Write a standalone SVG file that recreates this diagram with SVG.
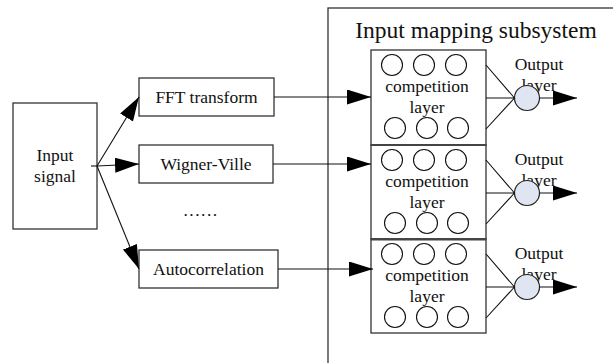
<svg xmlns="http://www.w3.org/2000/svg" width="613" height="363" viewBox="0 0 613 363">
  <style>
    .box { fill: #fff; stroke: #333; stroke-width: 1.3; }
    .sep { stroke: #444; stroke-width: 2; }
    .neuron { fill: none; stroke: #111; stroke-width: 1.1; }
    .out { fill: #dfe6f2; stroke: #222; stroke-width: 1.2; }
    .wire { fill: none; stroke: #111; stroke-width: 1.1; }
    .arrow { fill: none; stroke: #111; stroke-width: 1.1; marker-end: url(#head); }
    text { font-family: "Liberation Serif", "Times New Roman", serif; font-size: 17.5px; fill: #111; text-anchor: middle; }
    .title { font-size: 23.5px; }
  </style>
  <defs>
    <marker id="head" markerUnits="userSpaceOnUse" markerWidth="24" markerHeight="16" refX="24" refY="7.5" orient="auto">
      <path d="M0,0 L24,7.5 L0,15 Z" fill="#000"/>
    </marker>
    <g id="layerBlock">
      <circle class="neuron" cx="22" cy="15" r="10.5"/>
      <circle class="neuron" cx="54" cy="15" r="10.5"/>
      <circle class="neuron" cx="86" cy="15" r="10.5"/>
      <circle class="neuron" cx="25" cy="78" r="10.5"/>
      <circle class="neuron" cx="57" cy="78" r="10.5"/>
      <circle class="neuron" cx="88" cy="78" r="10.5"/>
      <text x="57" y="42">competition</text>
      <text x="57" y="63">layer</text>
    </g>
  </defs>

  <rect width="613" height="363" fill="#fff"/>

  <!-- subsystem frame (runs off the right and bottom edges) -->
  <g id="subsystem">
    <rect x="328" y="8" width="300" height="380" fill="none" stroke="#333" stroke-width="1.3"/>
    <text class="title" x="476" y="38">Input mapping subsystem</text>
  </g>

  <g id="input-signal">
    <rect class="box" x="13" y="103" width="84" height="126"/>
    <text x="55" y="161">Input</text>
    <text x="55" y="182">signal</text>
  </g>

  <g id="fft">
    <rect class="box" x="139" y="78" width="135" height="38"/>
    <text x="206.5" y="103">FFT transform</text>
  </g>
  <g id="wigner">
    <rect class="box" x="139" y="145" width="134" height="38"/>
    <text x="206" y="170">Wigner-Ville</text>
  </g>
  <g id="ellipsis">
    <text x="201" y="216" letter-spacing="1.5">......</text>
  </g>
  <g id="autocorr">
    <rect class="box" x="139" y="250" width="139" height="38"/>
    <text x="208.5" y="275">Autocorrelation</text>
  </g>

  <!-- competition blocks -->
  <g id="competition-1">
    <rect class="box" x="371" y="50" width="115" height="95"/>
    <use href="#layerBlock" x="370" y="50"/>
  </g>
  <g id="competition-2">
    <rect class="box" x="371" y="145" width="115" height="94"/>
    <use href="#layerBlock" x="370" y="145"/>
  </g>
  <g id="competition-3">
    <rect class="box" x="371" y="239" width="115" height="94"/>
    <use href="#layerBlock" x="370" y="239"/>
  </g>
  <line class="sep" x1="371" y1="145" x2="486" y2="145"/>
  <line class="sep" x1="371" y1="239.5" x2="486" y2="239.5"/>

  <!-- output neurons -->
  <g id="output-1">
    <text x="539" y="70">Output</text>
    <text x="539" y="91">layer</text>
    <circle class="out" cx="527" cy="98" r="12.5"/>
  </g>
  <g id="output-2">
    <text x="539" y="165">Output</text>
    <text x="539" y="186">layer</text>
    <circle class="out" cx="527" cy="193" r="12.5"/>
  </g>
  <g id="output-3">
    <text x="539" y="259">Output</text>
    <text x="539" y="280">layer</text>
    <circle class="out" cx="527" cy="287" r="12.5"/>
  </g>

  <g id="connectors">
    <!-- fan-out from the input signal -->
    <line class="wire" x1="91" y1="166" x2="97" y2="166"/>
    <line class="arrow" x1="97" y1="166" x2="139" y2="97"/>
    <line class="arrow" x1="97" y1="166" x2="139" y2="164"/>
    <line class="arrow" x1="97" y1="166" x2="139" y2="269"/>

    <!-- transforms into competition layers -->
    <line class="arrow" x1="274" y1="97" x2="371" y2="97"/>
    <line class="arrow" x1="273" y1="164" x2="371" y2="164"/>
    <line class="arrow" x1="278" y1="269" x2="373" y2="269"/>

    <!-- competition layer to output neuron -->
    <path class="wire" d="M486,65 L514.5,98 M486,98 L514.5,98 M486,129 L514.5,98"/>
    <path class="wire" d="M486,160 L514.5,193 M486,193 L514.5,193 M486,224 L514.5,193"/>
    <path class="wire" d="M486,254 L514.5,287 M486,287 L514.5,287 M486,318 L514.5,287"/>

    <!-- outputs -->
    <line class="arrow" x1="539.5" y1="98" x2="577" y2="98"/>
    <line class="arrow" x1="539.5" y1="193" x2="577" y2="193"/>
    <line class="arrow" x1="539.5" y1="287" x2="577" y2="287"/>
  </g>
</svg>
